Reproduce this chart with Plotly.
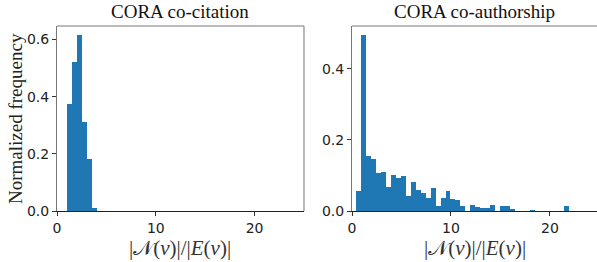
import plotly.graph_objects as go

# ---- data ----
cocit_bin_start = 1.0
cocit_bin_width = 0.5
cocit_heights = [0.374, 0.520, 0.616, 0.311, 0.182, 0.012]

coauth_bin_start = 0.45
coauth_bin_width = 0.5
coauth_heights = [0.055, 0.496, 0.154, 0.146, 0.108, 0.111, 0.068, 0.100, 0.093, 0.098,
                  0.042, 0.082, 0.060, 0.052, 0.036, 0.064, 0.015, 0.036, 0.055, 0.034,
                  0.031, 0.015, 0.000, 0.017, 0.010, 0.008, 0.008, 0.017, 0.000, 0.015,
                  0.013, 0.004, 0.000, 0.000, 0.000, 0.002, 0.000, 0.000, 0.000, 0.000,
                  0.000, 0.000, 0.013]

titles = ["CORA co-citation", "CORA co-authorship"]
y_label = "Normalized frequency"
x_label = "|𝒩(<i>v</i>)|/|<i>E</i>(<i>v</i>)|"
x_ticks = [0, 10, 20]
y_ticks_left = [0.0, 0.2, 0.4, 0.6]
y_ticks_right = [0.0, 0.2, 0.4]

BLUE = "#1f77b4"
SERIF = "Liberation Serif, DejaVu Serif, serif"
SANS = "DejaVu Sans, sans-serif"

def edges(start, width, n):
    return [start + width * i for i in range(n)]

fig = go.Figure()
fig.add_trace(go.Bar(x=edges(cocit_bin_start, cocit_bin_width, len(cocit_heights)),
                     y=cocit_heights, width=cocit_bin_width, offset=0,
                     marker=dict(color=BLUE, line=dict(width=0)),
                     xaxis="x", yaxis="y", showlegend=False))
fig.add_trace(go.Bar(x=edges(coauth_bin_start, coauth_bin_width, len(coauth_heights)),
                     y=coauth_heights, width=coauth_bin_width, offset=0,
                     marker=dict(color=BLUE, line=dict(width=0)),
                     xaxis="x2", yaxis="y2", showlegend=False))

axis_common = dict(showgrid=False, zeroline=False, showline=True, ticks="outside",
                   ticklen=4, tickwidth=1, tickcolor="#333", automargin=False,
                   tickfont=dict(family=SANS, size=14, color="#222"))

fig.update_layout(
    width=597, height=262,
    margin=dict(l=57, r=0, t=26, b=51, autoexpand=False),
    paper_bgcolor="white", plot_bgcolor="white",
    bargap=0,
    xaxis=dict(domain=[0, 0.4574], range=[0, 25.0], tickvals=x_ticks,
               linecolor="#222", linewidth=1, **axis_common),
    yaxis=dict(range=[0, 0.647], tickvals=y_ticks_left, tickformat=".1f",
               linecolor="#777", linewidth=1, **axis_common),
    xaxis2=dict(domain=[0.5463, 1], range=[0, 24.75], tickvals=x_ticks, anchor="y2",
                linecolor="#222", linewidth=1, **axis_common),
    yaxis2=dict(range=[0, 0.521], tickvals=y_ticks_right, tickformat=".1f", anchor="x2",
                linecolor="#777", linewidth=1, **axis_common),
)

# top / right spines
spine = dict(color="#777", width=1)
fig.add_shape(type="line", xref="x domain", yref="y domain", x0=0, x1=1, y0=1, y1=1, line=spine)
fig.add_shape(type="line", xref="x domain", yref="y domain", x0=1, x1=1, y0=0, y1=1, line=spine)
fig.add_shape(type="line", xref="x2 domain", yref="y2 domain", x0=0, x1=1, y0=1, y1=1, line=spine)

# subplot titles and x labels
for t, xd, yd in zip(titles, ["x domain", "x2 domain"], ["y domain", "y2 domain"]):
    fig.add_annotation(text=t, xref=xd, yref=yd, x=0.5, y=1, yshift=2,
                       yanchor="bottom", showarrow=False,
                       font=dict(family=SERIF, size=19, color="#111"))
    fig.add_annotation(text=x_label, xref=xd, yref=yd, x=0.5, y=0, yshift=-23,
                       yanchor="top", showarrow=False,
                       font=dict(family=SERIF, size=21, color="#333"))

# y label
fig.add_annotation(text=y_label, xref="paper", yref="y domain", x=0, xshift=-57 + 3,
                   xanchor="left", y=0.5, textangle=-90, showarrow=False,
                   font=dict(family=SERIF, size=19, color="#222"))

fig.write_html("out.html", config={"displayModeBar": False},
               post_script="document.body.style.margin='0';document.body.style.overflow='hidden';")
